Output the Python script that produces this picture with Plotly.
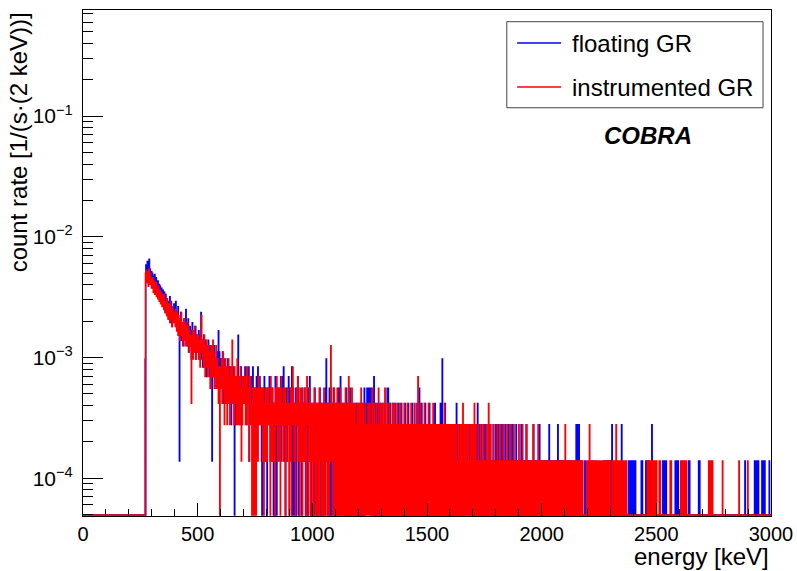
import plotly.graph_objects as go

# ---------------- data: counts per 2 keV bin (rows of 25 bins = 50 keV) ----------------
live_time_s = 7200.0
bin_width_kev = 2

floating_0000_0500 = [
    0, 0, 0, 0, 0, 0, 0, 0, 0, 0, 0, 0, 0, 0, 0, 0, 0, 0, 0, 0, 0, 0, 0, 0, 0,
    0, 0, 0, 0, 0, 0, 0, 0, 0, 0, 0, 0, 0, 0, 0, 0, 0, 0, 0, 0, 0, 0, 0, 0, 0,
    0, 0, 0, 0, 0, 0, 0, 0, 0, 0, 0, 0, 0, 0, 0, 0, 0, 0, 0, 0, 0, 0, 0, 0, 0,
    0, 0, 0, 0, 0, 0, 0, 0, 0, 0, 0, 0, 0, 0, 0, 0, 0, 0, 0, 0, 0, 0, 0, 0, 0,
    0, 0, 0, 0, 0, 0, 0, 0, 0, 0, 0, 0, 0, 0, 0, 0, 0, 0, 0, 0, 0, 0, 0, 0, 0,
    0, 0, 0, 0, 0, 0, 0, 0, 0, 0, 0, 0, 42, 34, 38, 45, 33, 40, 36, 47, 31, 39, 35, 29, 37,
    32, 36, 28, 34, 30, 27, 35, 31, 26, 33, 29, 30, 24, 31, 27, 25, 29, 23, 28, 26, 22, 27, 24, 21, 26,
    23, 19, 25, 21, 17, 24, 20, 18, 22, 16, 21, 19, 15, 20, 23, 14, 18, 21, 16, 13, 19, 17, 15, 20, 14,
    18, 15, 21, 13, 17, 12, 16, 19, 14, 11, 1, 15, 13, 17, 12, 10, 14, 11, 13, 9, 15, 12, 10, 14, 18,
    11, 13, 9, 12, 15, 8, 11, 10, 13, 9, 12, 7, 10, 14, 8, 11, 9, 12, 8, 10, 13, 7, 9, 11, 8,
]
floating_0500_1000 = [
    10, 8, 12, 7, 9, 11, 8, 17, 9, 7, 10, 6, 8, 11, 7, 9, 6, 10, 8, 5, 9, 7, 6, 10, 8,
    7, 5, 9, 6, 8, 6, 1, 7, 5, 8, 6, 9, 5, 7, 6, 4, 8, 5, 7, 6, 12, 4, 8, 5, 6,
    5, 7, 4, 6, 8, 3, 5, 6, 4, 7, 5, 3, 6, 4, 5, 7, 3, 5, 4, 6, 3, 5, 4, 2, 6,
    4, 5, 3, 6, 4, 0, 5, 3, 4, 2, 5, 4, 3, 11, 4, 5, 2, 4, 3, 6, 3, 2, 4, 5, 3,
    4, 5, 3, 6, 3, 4, 2, 5, 5, 3, 4, 6, 1, 4, 3, 5, 5, 3, 2, 4, 6, 2, 3, 4, 3,
    3, 4, 4, 5, 2, 3, 6, 4, 3, 2, 5, 3, 4, 4, 1, 0, 3, 3, 4, 2, 5, 1, 4, 3, 3,
    3, 0, 4, 4, 2, 3, 5, 3, 1, 4, 2, 3, 4, 1, 3, 0, 2, 3, 0, 5, 4, 1, 0, 3, 4,
    2, 3, 4, 4, 2, 3, 5, 1, 3, 2, 5, 2, 6, 3, 1, 2, 0, 3, 4, 4, 1, 2, 3, 5, 2,
    3, 4, 1, 3, 2, 6, 0, 2, 4, 3, 0, 2, 3, 1, 4, 0, 3, 2, 5, 4, 0, 2, 3, 1, 3,
    2, 0, 3, 4, 2, 3, 1, 2, 4, 1, 0, 3, 3, 1, 2, 0, 4, 1, 2, 5, 1, 3, 0, 3, 2,
]
floating_1000_1500 = [
    2, 1, 3, 0, 2, 4, 1, 2, 0, 3, 1, 2, 3, 0, 2, 1, 4, 2, 0, 3, 1, 2, 0, 3, 2,
    1, 3, 0, 2, 4, 7, 1, 2, 0, 3, 2, 1, 4, 0, 2, 3, 1, 0, 2, 3, 1, 4, 0, 2, 1,
    3, 0, 2, 1, 3, 2, 0, 4, 1, 2, 0, 5, 3, 1, 0, 2, 3, 1, 2, 0, 3, 1, 2, 0, 4,
    1, 2, 0, 3, 1, 0, 2, 4, 1, 0, 2, 3, 1, 2, 0, 3, 1, 0, 2, 1, 3, 0, 2, 1, 3,
    0, 2, 1, 3, 0, 2, 1, 0, 3, 2, 1, 0, 2, 4, 1, 0, 2, 3, 1, 4, 4, 2, 4, 1, 3,
    4, 2, 0, 4, 1, 3, 2, 0, 1, 5, 2, 0, 3, 1, 2, 0, 1, 3, 0, 2, 1, 0, 3, 2, 1,
    0, 2, 1, 3, 0, 1, 2, 0, 3, 1, 0, 2, 1, 4, 0, 4, 2, 1, 0, 3, 1, 2, 0, 1, 2,
    3, 0, 1, 2, 0, 1, 3, 0, 2, 1, 0, 2, 1, 3, 0, 1, 2, 0, 1, 3, 0, 2, 1, 0, 2,
    1, 0, 3, 1, 0, 2, 1, 0, 2, 3, 0, 1, 2, 0, 1, 0, 2, 1, 3, 0, 1, 2, 0, 1, 0,
    2, 1, 0, 3, 1, 0, 2, 0, 4, 1, 2, 0, 1, 3, 0, 2, 1, 0, 1, 2, 0, 3, 1, 0, 2,
]
floating_1500_2000 = [
    1, 0, 2, 0, 1, 3, 0, 1, 0, 2, 1, 0, 1, 2, 0, 1, 0, 3, 1, 0, 2, 1, 0, 1, 0,
    2, 0, 1, 0, 3, 1, 0, 2, 7, 1, 0, 1, 2, 0, 3, 0, 1, 2, 0, 1, 0, 2, 1, 0, 1,
    0, 1, 2, 0, 1, 0, 2, 1, 0, 1, 0, 2, 0, 1, 3, 0, 1, 0, 2, 1, 0, 1, 0, 2, 0,
    1, 0, 2, 1, 0, 1, 0, 2, 0, 1, 1, 1, 2, 1, 0, 1, 0, 2, 0, 1, 0, 1, 2, 0, 1,
    0, 2, 0, 1, 0, 1, 2, 0, 1, 0, 3, 0, 1, 0, 2, 1, 0, 1, 0, 2, 0, 1, 0, 1, 2,
    0, 1, 0, 2, 1, 0, 1, 0, 2, 0, 1, 0, 1, 2, 0, 1, 0, 1, 0, 2, 1, 0, 1, 0, 1,
    2, 0, 1, 0, 1, 0, 2, 1, 0, 1, 0, 1, 0, 2, 0, 1, 0, 1, 1, 0, 2, 0, 1, 0, 1,
    0, 1, 0, 2, 0, 1, 0, 1, 0, 1, 2, 0, 1, 0, 1, 0, 0, 1, 0, 2, 1, 0, 1, 0, 1,
    0, 1, 0, 1, 0, 2, 0, 1, 0, 1, 0, 1, 0, 0, 1, 0, 2, 1, 0, 1, 0, 1, 0, 1, 0,
    1, 0, 1, 0, 0, 1, 0, 2, 0, 1, 0, 1, 0, 1, 0, 0, 1, 0, 1, 0, 2, 0, 1, 0, 1,
]
floating_2000_2500 = [
    0, 1, 0, 0, 1, 0, 1, 0, 0, 1, 0, 0, 1, 0, 1, 0, 2, 0, 1, 0, 0, 1, 0, 0, 1,
    0, 1, 0, 0, 1, 0, 0, 1, 0, 0, 2, 0, 1, 0, 0, 1, 0, 0, 0, 1, 0, 0, 1, 0, 0,
    0, 0, 1, 0, 0, 0, 1, 0, 0, 1, 0, 0, 0, 0, 1, 0, 0, 0, 0, 1, 0, 0, 0, 0, 1,
    2, 1, 0, 1, 2, 0, 2, 1, 0, 0, 0, 0, 1, 0, 0, 0, 0, 0, 0, 1, 0, 0, 0, 0, 0,
    0, 0, 0, 1, 0, 0, 0, 0, 0, 0, 1, 0, 0, 0, 0, 0, 0, 1, 0, 0, 0, 0, 0, 0, 0,
    0, 0, 0, 0, 0, 0, 0, 0, 0, 0, 1, 0, 1, 0, 1, 1, 0, 1, 0, 0, 1, 0, 1, 0, 1,
    0, 0, 0, 2, 0, 0, 0, 0, 0, 0, 0, 0, 0, 0, 0, 0, 0, 0, 0, 0, 0, 0, 0, 0, 2,
    0, 0, 0, 0, 0, 0, 0, 0, 0, 0, 0, 0, 0, 0, 1, 0, 1, 1, 0, 1, 0, 1, 0, 1, 1,
    0, 1, 0, 1, 1, 0, 0, 0, 0, 0, 0, 0, 0, 0, 0, 0, 0, 1, 0, 1, 0, 0, 0, 0, 0,
    0, 0, 1, 0, 1, 0, 1, 0, 1, 0, 0, 0, 0, 0, 0, 2, 0, 0, 0, 0, 0, 0, 0, 0, 0,
]
floating_2500_3000 = [
    0, 0, 0, 0, 0, 0, 0, 0, 0, 0, 0, 0, 0, 0, 1, 0, 1, 0, 0, 1, 0, 1, 0, 0, 0,
    0, 0, 0, 0, 0, 0, 0, 0, 0, 0, 0, 0, 0, 0, 0, 0, 1, 0, 1, 0, 1, 0, 1, 0, 0,
    0, 0, 0, 0, 0, 0, 0, 0, 0, 0, 0, 0, 0, 0, 0, 0, 0, 0, 0, 0, 1, 0, 1, 0, 0,
    0, 0, 0, 0, 0, 0, 0, 0, 0, 0, 0, 0, 0, 0, 0, 0, 0, 1, 0, 1, 0, 0, 0, 0, 0,
    0, 0, 0, 0, 0, 0, 0, 0, 0, 0, 0, 0, 0, 0, 0, 0, 0, 0, 0, 0, 0, 0, 0, 0, 0,
    0, 0, 0, 0, 0, 0, 0, 0, 0, 0, 0, 0, 0, 0, 0, 0, 0, 0, 0, 0, 0, 0, 0, 0, 0,
    0, 0, 0, 0, 0, 0, 0, 0, 0, 0, 0, 0, 0, 0, 0, 0, 0, 0, 0, 0, 0, 0, 0, 0, 0,
    0, 0, 0, 0, 0, 0, 0, 0, 0, 0, 0, 0, 0, 0, 0, 0, 0, 0, 1, 0, 0, 0, 0, 0, 0,
    0, 0, 0, 0, 0, 0, 0, 0, 0, 0, 0, 0, 0, 0, 1, 0, 1, 0, 1, 0, 0, 0, 1, 0, 0,
    0, 0, 0, 0, 0, 1, 0, 1, 0, 1, 0, 1, 0, 0, 0, 0, 0, 0, 0, 0, 0, 1, 0, 0, 0,
]

instrumented_0000_0500 = [
    0, 0, 0, 0, 0, 0, 0, 0, 0, 0, 0, 0, 0, 0, 0, 0, 0, 0, 0, 0, 0, 0, 0, 0, 0,
    0, 0, 0, 0, 0, 0, 0, 0, 0, 0, 0, 0, 0, 0, 0, 0, 0, 0, 0, 0, 0, 0, 0, 0, 0,
    0, 0, 0, 0, 0, 0, 0, 0, 0, 0, 0, 0, 0, 0, 0, 0, 0, 0, 0, 0, 0, 0, 0, 0, 0,
    0, 0, 0, 0, 0, 0, 0, 0, 0, 0, 0, 0, 0, 0, 0, 0, 0, 0, 0, 0, 0, 0, 0, 0, 0,
    0, 0, 0, 0, 0, 0, 0, 0, 0, 0, 0, 0, 0, 0, 0, 0, 0, 0, 0, 0, 0, 0, 0, 0, 0,
    0, 0, 0, 0, 0, 0, 0, 0, 0, 0, 7, 36, 38, 33, 30, 37, 35, 28, 34, 39, 31, 29, 36, 33, 27,
    30, 27, 33, 25, 29, 31, 24, 28, 26, 30, 23, 27, 25, 22, 28, 24, 21, 26, 23, 20, 25, 22, 19, 24, 21,
    22, 18, 24, 20, 17, 21, 19, 16, 22, 18, 15, 20, 17, 19, 14, 21, 16, 18, 15, 13, 19, 16, 14, 17, 15,
    16, 13, 18, 14, 12, 17, 15, 11, 16, 13, 14, 10, 15, 12, 17, 11, 13, 9, 14, 12, 10, 15, 11, 13, 9,
    12, 10, 14, 9, 11, 13, 8, 12, 10, 9, 11, 3, 8, 10, 12, 7, 11, 9, 13, 8, 10, 7, 11, 9, 8,
]
instrumented_0500_1000 = [
    9, 11, 7, 10, 8, 6, 9, 12, 16, 8, 10, 7, 9, 6, 11, 8, 5, 9, 7, 10, 6, 8, 5, 9, 7,
    8, 6, 4, 7, 9, 5, 7, 6, 10, 5, 8, 4, 7, 6, 5, 9, 4, 6, 7, 5, 3, 6, 4, 0, 5,
    6, 4, 7, 3, 5, 8, 4, 6, 2, 5, 7, 3, 4, 6, 2, 5, 4, 7, 3, 5, 2, 4, 6, 3, 5,
    10, 4, 3, 5, 2, 6, 4, 3, 5, 2, 4, 7, 3, 2, 5, 3, 4, 2, 6, 3, 1, 4, 2, 5, 3,
    4, 3, 5, 3, 2, 4, 6, 2, 6, 3, 3, 4, 1, 5, 2, 5, 3, 3, 0, 2, 4, 0, 3, 4, 0,
    2, 4, 0, 4, 3, 3, 1, 5, 5, 3, 2, 4, 3, 2, 4, 3, 1, 3, 4, 0, 3, 2, 1, 4, 3,
    2, 1, 4, 2, 4, 3, 2, 3, 0, 5, 3, 1, 2, 4, 3, 1, 3, 2, 0, 3, 4, 2, 5, 2, 1,
    3, 4, 1, 4, 2, 0, 3, 5, 2, 3, 2, 1, 4, 2, 3, 4, 0, 2, 3, 1, 2, 4, 3, 2, 0,
    2, 3, 1, 4, 0, 3, 2, 6, 4, 2, 1, 3, 2, 0, 2, 3, 4, 2, 5, 1, 2, 3, 0, 4, 1,
    3, 1, 4, 0, 3, 2, 1, 2, 4, 1, 3, 0, 2, 5, 3, 2, 0, 1, 3, 4, 1, 0, 2, 3, 1,
]
instrumented_1000_1500 = [
    3, 0, 2, 1, 4, 2, 0, 3, 1, 2, 0, 3, 2, 1, 0, 4, 2, 1, 3, 0, 2, 1, 3, 0, 2,
    4, 1, 0, 2, 3, 1, 2, 0, 3, 1, 2, 0, 3, 1, 2, 9, 4, 1, 0, 3, 2, 1, 4, 0, 2,
    1, 3, 0, 2, 4, 1, 0, 3, 2, 1, 0, 4, 2, 0, 3, 1, 2, 0, 3, 1, 0, 2, 4, 1, 0,
    3, 2, 0, 1, 5, 2, 0, 3, 1, 0, 2, 4, 1, 0, 3, 2, 0, 1, 3, 0, 2, 1, 0, 3, 1,
    2, 0, 3, 1, 0, 2, 4, 1, 0, 2, 3, 0, 1, 2, 0, 3, 1, 0, 2, 1, 0, 3, 2, 0, 1,
    3, 0, 2, 1, 0, 4, 2, 0, 1, 3, 0, 2, 1, 0, 3, 1, 2, 0, 1, 4, 0, 2, 1, 0, 3,
    1, 0, 2, 3, 0, 1, 2, 0, 4, 1, 0, 2, 1, 3, 0, 2, 1, 0, 3, 1, 0, 2, 0, 1, 3,
    0, 2, 1, 0, 3, 1, 0, 2, 1, 0, 3, 2, 0, 1, 2, 0, 1, 3, 0, 2, 1, 0, 1, 2, 0,
    3, 1, 0, 2, 1, 0, 1, 3, 0, 2, 1, 0, 2, 1, 0, 3, 1, 0, 2, 0, 1, 2, 0, 3, 1,
    0, 2, 1, 0, 2, 5, 0, 1, 2, 0, 3, 1, 0, 2, 1, 0, 2, 1, 0, 3, 0, 1, 2, 0, 1,
]
instrumented_1500_2000 = [
    2, 0, 1, 3, 0, 1, 2, 0, 1, 0, 2, 1, 0, 3, 1, 0, 2, 0, 1, 2, 0, 1, 0, 2, 1,
    0, 1, 2, 0, 1, 0, 2, 1, 0, 2, 1, 0, 1, 3, 0, 1, 2, 0, 1, 0, 2, 1, 0, 1, 2,
    1, 0, 2, 1, 0, 1, 2, 0, 1, 0, 2, 0, 1, 2, 0, 1, 0, 1, 2, 0, 1, 0, 2, 1, 0,
    1, 2, 0, 3, 0, 1, 0, 2, 1, 0, 1, 2, 0, 1, 0, 2, 0, 1, 0, 1, 2, 0, 1, 0, 2,
    0, 1, 0, 3, 1, 0, 2, 0, 1, 0, 1, 2, 0, 1, 0, 1, 0, 2, 1, 0, 1, 0, 1, 2, 0,
    1, 0, 1, 0, 2, 0, 1, 0, 1, 3, 0, 1, 0, 2, 1, 0, 1, 0, 1, 0, 2, 0, 1, 0, 1,
    0, 1, 0, 2, 0, 1, 0, 1, 0, 2, 1, 0, 1, 0, 1, 0, 2, 0, 1, 0, 1, 0, 1, 0, 2,
    1, 0, 1, 0, 1, 0, 2, 0, 1, 0, 1, 0, 1, 0, 2, 0, 1, 0, 1, 0, 0, 1, 0, 1, 0,
    2, 0, 1, 0, 1, 0, 1, 0, 2, 0, 1, 0, 1, 0, 1, 0, 1, 2, 0, 1, 0, 1, 0, 1, 0,
    1, 0, 1, 0, 1, 0, 2, 0, 1, 0, 1, 0, 0, 1, 0, 1, 0, 2, 0, 1, 0, 1, 0, 0, 1,
]
instrumented_2000_2500 = [
    1, 0, 1, 0, 0, 1, 0, 1, 0, 0, 1, 0, 0, 1, 0, 1, 0, 0, 1, 0, 1, 0, 0, 1, 0,
    1, 0, 0, 1, 0, 1, 0, 0, 1, 0, 0, 1, 0, 0, 1, 0, 0, 1, 0, 1, 0, 0, 1, 0, 1,
    0, 2, 0, 1, 0, 0, 1, 0, 1, 0, 0, 1, 0, 0, 1, 0, 1, 0, 0, 1, 0, 0, 1, 0, 0,
    1, 0, 0, 1, 0, 1, 0, 0, 1, 0, 0, 1, 0, 0, 1, 0, 0, 0, 0, 0, 0, 0, 0, 1, 0,
    1, 0, 0, 1, 2, 0, 1, 0, 0, 1, 0, 1, 0, 0, 1, 0, 1, 0, 0, 1, 0, 0, 1, 0, 1,
    0, 1, 0, 0, 1, 0, 1, 0, 0, 1, 0, 0, 1, 0, 1, 0, 0, 1, 0, 0, 1, 0, 0, 1, 0,
    0, 0, 0, 1, 0, 1, 0, 1, 0, 0, 1, 0, 2, 0, 1, 0, 0, 1, 0, 1, 0, 0, 1, 0, 1,
    0, 1, 0, 0, 1, 0, 1, 0, 0, 1, 0, 0, 0, 0, 0, 0, 0, 0, 0, 0, 0, 0, 0, 0, 0,
    0, 0, 0, 0, 0, 0, 0, 0, 0, 0, 0, 0, 0, 0, 0, 0, 0, 0, 0, 0, 0, 0, 0, 0, 0,
    0, 0, 0, 0, 0, 1, 0, 1, 0, 0, 1, 0, 1, 0, 0, 1, 0, 1, 0, 0, 1, 0, 1, 0, 1,
]
instrumented_2500_3000 = [
    1, 0, 0, 0, 0, 0, 1, 0, 1, 0, 0, 0, 0, 0, 0, 0, 0, 0, 0, 0, 0, 0, 0, 0, 0,
    0, 0, 0, 0, 0, 1, 0, 1, 0, 0, 0, 0, 0, 0, 0, 0, 0, 0, 0, 0, 0, 0, 0, 0, 0,
    0, 0, 0, 1, 0, 1, 0, 1, 0, 0, 1, 0, 1, 0, 0, 1, 0, 0, 0, 0, 0, 0, 0, 0, 0,
    0, 0, 0, 0, 0, 0, 0, 0, 0, 0, 0, 0, 0, 0, 0, 0, 0, 0, 0, 0, 0, 0, 0, 0, 0,
    0, 0, 0, 0, 0, 0, 0, 0, 0, 0, 0, 0, 0, 0, 1, 0, 1, 0, 0, 0, 1, 0, 1, 0, 0,
    0, 0, 0, 0, 0, 0, 0, 0, 0, 0, 0, 0, 0, 0, 0, 0, 0, 0, 0, 1, 0, 0, 0, 0, 0,
    0, 0, 0, 0, 0, 0, 0, 0, 0, 0, 0, 0, 0, 0, 0, 0, 0, 0, 0, 0, 0, 0, 0, 0, 0,
    0, 0, 0, 0, 0, 1, 0, 0, 0, 0, 0, 0, 0, 0, 0, 0, 0, 0, 0, 0, 0, 0, 0, 0, 1,
    0, 0, 0, 0, 0, 0, 0, 0, 0, 0, 0, 0, 0, 0, 0, 0, 0, 0, 0, 0, 0, 0, 0, 0, 0,
    0, 0, 0, 0, 0, 0, 0, 0, 0, 0, 0, 0, 0, 0, 0, 0, 0, 0, 0, 0, 0, 0, 0, 0, 0,
]

floating_counts = (floating_0000_0500 + floating_0500_1000 + floating_1000_1500
                   + floating_1500_2000 + floating_2000_2500 + floating_2500_3000)
instrumented_counts = (instrumented_0000_0500 + instrumented_0500_1000 + instrumented_1000_1500
                       + instrumented_1500_2000 + instrumented_2000_2500 + instrumented_2500_3000)

series_names = ["floating GR", "instrumented GR"]
series_colors = ["#0000ff", "#ff0000"]

y_tick_vals = [1e-4, 1e-3, 1e-2, 1e-1]
y_tick_text = ["10<sup>\u22124</sup>", "10<sup>\u22123</sup>", "10<sup>\u22122</sup>", "10<sup>\u22121</sup>"]
x_tick_vals = [0, 500, 1000, 1500, 2000, 2500, 3000]

# ---------------- figure ----------------
y_log_min, y_log_max = -4.313, -0.122
# empty bins are drawn on the frame bottom, as ROOT does
y_floor = 10 ** (y_log_min + 0.008)
FONT = "Liberation Sans, Arial, Helvetica, sans-serif"

fig = go.Figure()
for name, counts, color in zip(series_names, [floating_counts, instrumented_counts], series_colors):
    edges = [i * bin_width_kev for i in range(len(counts) + 1)]
    rates = [c / live_time_s for c in counts]
    y = [r if r > 0 else y_floor for r in rates]
    y.append(y[-1])
    fig.add_trace(go.Scatter(
        x=edges, y=y, mode="lines", name=name, showlegend=False,
        line=dict(color=color, width=1.4, shape="hv"),
    ))

minor_y = [k * 10.0 ** e for e in range(-5, 0) for k in range(2, 10)]

fig.update_layout(
    width=797, height=571,
    margin=dict(l=83, r=26, t=10, b=55),
    paper_bgcolor="white", plot_bgcolor="white",
    font=dict(family=FONT, size=20, color="black"),
    showlegend=False,
    xaxis=dict(
        range=[0, 3000], showgrid=False, zeroline=False, automargin=False,
        showline=True, linecolor="black", linewidth=1, mirror=True,
        ticks="inside", ticklen=13, tickcolor="black",
        tickvals=x_tick_vals, ticktext=[str(v) for v in x_tick_vals],
        minor=dict(dtick=100, tick0=0, ticks="inside", ticklen=7, tickcolor="black"),
        tickfont=dict(size=20), ticklabelstandoff=0,
    ),
    yaxis=dict(
        type="log", range=[y_log_min, y_log_max], showgrid=False, zeroline=False,
        automargin=False,
        showline=True, linecolor="black", linewidth=1, mirror=True,
        ticks="inside", ticklen=20, tickcolor="black",
        tickvals=y_tick_vals, ticktext=y_tick_text,
        minor=dict(tickvals=minor_y, ticks="inside", ticklen=10, tickcolor="black"),
        tickfont=dict(size=21), ticklabelstandoff=5,
    ),
)

# axis titles (ROOT style: aligned to the end of the axis)
fig.add_annotation(
    text="energy [keV]", xref="paper", yref="paper", x=1.0, y=-0.081,
    xanchor="right", yanchor="middle", showarrow=False, font=dict(size=24),
)
fig.add_annotation(
    text="count rate [1/(s\u00b7(2 keV))]", xref="paper", yref="paper",
    x=-0.094, y=1.0, xanchor="center", yanchor="top", textangle=-90,
    showarrow=False, font=dict(size=24),
)
fig.add_annotation(
    text="<b><i>COBRA</i></b>", xref="paper", yref="paper",
    x=0.8213, y=0.7528, xanchor="center", yanchor="middle", showarrow=False,
    font=dict(size=24),
)

# legend box (ROOT TLegend look)
fig.add_shape(type="rect", xref="paper", yref="paper", x0=0.616, x1=0.9884, y0=0.8068, y1=0.9769,
              line=dict(color="#444444", width=1), fillcolor="white", layer="above")
legend_rows_y = [0.9347, 0.8477]
for name, color, ly in zip(series_names, series_colors, legend_rows_y):
    fig.add_shape(type="line", xref="paper", yref="paper", x0=0.631, x1=0.6949, y0=ly, y1=ly,
                  line=dict(color=color, width=1.4), layer="above")
    fig.add_annotation(text=name, xref="paper", yref="paper", x=0.7085, y=ly,
                       xanchor="left", yanchor="middle", showarrow=False, font=dict(size=24))

fig.write_html("out.html", config={"displayModeBar": False},
               post_script="document.body.style.margin='0';")
